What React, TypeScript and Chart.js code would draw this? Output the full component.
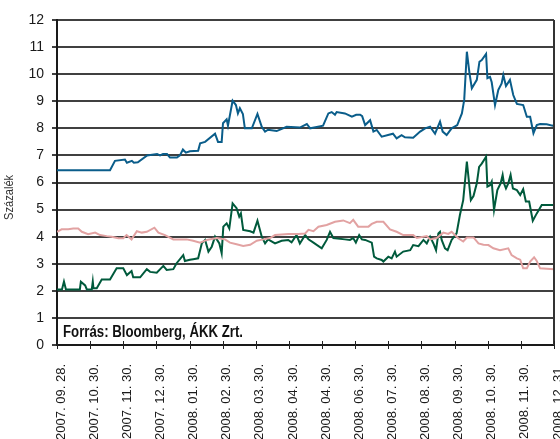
import React, { useEffect, useRef } from "react";
import { Chart, registerables } from "chart.js";

Chart.register(...registerables);

// x positions are in "label intervals" since 2007. 09. 28. (0 .. 15)
const xLabels = [
  "2007. 09. 28.", "2007. 10. 30.", "2007. 11. 30.", "2007. 12. 30.",
  "2008. 01. 30.", "2008. 02. 30.", "2008. 03. 30.", "2008. 04. 30.",
  "2008. 04. 30.", "2008. 06. 30.", "2008. 07. 30.", "2008. 08. 30.",
  "2008. 09. 30.", "2008. 10. 30.", "2008. 11. 30.", "2008. 12. 31.",
];
const yTicks = [0, 1, 2, 3, 4, 5, 6, 7, 8, 9, 10, 11, 12];
const yTitle = "Százalék";
const sourceText = "Forrás: Bloomberg, ÁKK Zrt.";

const blueX = [0, 1.6, 1.75, 2.05, 2.11, 2.26, 2.32, 2.44, 2.72, 3.02, 3.11, 3.2, 3.32, 3.41, 3.62, 3.71, 3.8, 3.89, 4.01, 4.26, 4.32, 4.47, 4.77, 4.86, 4.97, 5.01, 5.12, 5.16, 5.3, 5.4, 5.46, 5.52, 5.61, 5.67, 5.88, 6.05, 6.18, 6.28, 6.37, 6.63, 6.93, 7.33, 7.54, 7.64, 7.84, 8.03, 8.19, 8.29, 8.39, 8.44, 8.69, 8.9, 9.03, 9.15, 9.21, 9.3, 9.45, 9.55, 9.65, 9.8, 10.14, 10.25, 10.4, 10.5, 10.75, 10.96, 11.11, 11.26, 11.41, 11.56, 11.64, 11.76, 11.91, 12.08, 12.22, 12.29, 12.37, 12.45, 12.52, 12.67, 12.75, 12.82, 12.95, 12.99, 13.07, 13.12, 13.22, 13.32, 13.42, 13.47, 13.55, 13.67, 13.77, 13.88, 14.07, 14.18, 14.28, 14.38, 14.48, 14.58, 14.78, 14.98, 15];
const blueY = [6.45, 6.45, 6.8, 6.85, 6.73, 6.8, 6.73, 6.75, 7.0, 7.05, 7.0, 7.05, 7.05, 6.92, 6.92, 7.0, 7.22, 7.1, 7.15, 7.17, 7.45, 7.5, 7.8, 7.5, 7.5, 8.19, 8.33, 8.1, 9.02, 8.86, 8.55, 8.74, 8.53, 8.0, 8.0, 8.53, 8.06, 7.88, 7.95, 7.9, 8.06, 8.03, 8.16, 8.0, 8.05, 8.1, 8.55, 8.6, 8.5, 8.6, 8.55, 8.43, 8.5, 8.5, 8.45, 8.12, 8.3, 7.88, 7.94, 7.69, 7.8, 7.63, 7.75, 7.67, 7.65, 7.88, 8.0, 8.06, 7.8, 8.25, 7.88, 7.75, 8.0, 8.12, 8.55, 9.05, 10.83, 10.03, 9.48, 9.79, 10.46, 10.52, 10.75, 9.85, 9.9, 9.7, 8.86, 9.42, 9.66, 9.97, 9.56, 9.79, 9.23, 8.9, 8.86, 8.43, 8.43, 7.82, 8.12, 8.16, 8.15, 8.09, 8.15];

const greenX = [0, 0.15, 0.21, 0.27, 0.69, 0.72, 0.85, 0.9, 1.05, 1.08, 1.1, 1.2, 1.35, 1.6, 1.8, 2.0, 2.11, 2.25, 2.3, 2.51, 2.71, 2.81, 3.01, 3.21, 3.31, 3.51, 3.61, 3.81, 3.86, 4.01, 4.11, 4.26, 4.37, 4.47, 4.57, 4.67, 4.77, 4.9, 4.97, 5.02, 5.12, 5.2, 5.3, 5.42, 5.5, 5.55, 5.62, 5.83, 5.93, 6.05, 6.18, 6.28, 6.37, 6.58, 6.78, 6.98, 7.08, 7.23, 7.33, 7.49, 7.59, 7.74, 7.99, 8.14, 8.24, 8.34, 8.69, 8.84, 8.94, 9.02, 9.12, 9.2, 9.3, 9.5, 9.57, 9.65, 9.8, 9.85, 10.0, 10.1, 10.2, 10.25, 10.45, 10.66, 10.75, 10.91, 11.06, 11.16, 11.26, 11.36, 11.44, 11.51, 11.56, 11.61, 11.71, 11.79, 11.91, 12.06, 12.16, 12.26, 12.37, 12.49, 12.57, 12.67, 12.74, 12.82, 12.95, 12.99, 13.07, 13.12, 13.19, 13.29, 13.39, 13.45, 13.49, 13.55, 13.62, 13.69, 13.76, 13.88, 13.98, 14.07, 14.15, 14.25, 14.36, 14.48, 14.63, 15];
const greenY = [2.05, 2.05, 2.34, 2.05, 2.05, 2.34, 2.2, 2.05, 2.05, 2.34, 2.1, 2.1, 2.42, 2.42, 2.83, 2.83, 2.58, 2.73, 2.5, 2.5, 2.8, 2.7, 2.67, 2.92, 2.77, 2.8, 3.02, 3.32, 3.1, 3.15, 3.17, 3.2, 3.75, 3.88, 3.45, 3.63, 4.0, 3.75, 3.39, 4.37, 4.49, 4.3, 5.23, 5.05, 4.74, 4.86, 4.25, 4.2, 4.15, 4.59, 4.0, 3.75, 3.9, 3.75, 3.85, 3.88, 3.79, 4.06, 3.75, 4.06, 3.9, 3.78, 3.57, 3.88, 4.18, 3.95, 3.9, 3.88, 3.95, 3.78, 4.06, 3.9, 3.88, 3.78, 3.26, 3.2, 3.14, 3.08, 3.26, 3.2, 3.45, 3.26, 3.45, 3.5, 3.69, 3.65, 3.88, 3.75, 4.0, 3.75, 3.5, 4.12, 4.18, 3.88, 3.57, 3.5, 3.88, 4.12, 4.8, 5.35, 6.77, 5.35, 5.5, 5.97, 6.58, 6.7, 6.95, 5.85, 5.9, 6.03, 4.99, 5.72, 5.97, 6.28, 5.97, 5.78, 5.97, 6.28, 5.78, 5.72, 5.54, 5.75, 5.3, 5.3, 4.59, 4.86, 5.17, 5.17];

const pinkX = [0, 0.14, 0.34, 0.49, 0.64, 0.75, 0.94, 1.15, 1.3, 1.5, 1.65, 1.85, 2.0, 2.1, 2.25, 2.41, 2.56, 2.71, 2.94, 3.06, 3.26, 3.51, 3.91, 4.11, 4.32, 4.52, 4.82, 5.07, 5.22, 5.42, 5.62, 5.83, 6.03, 6.23, 6.43, 6.58, 6.98, 7.28, 7.49, 7.59, 7.74, 7.89, 8.14, 8.39, 8.64, 8.84, 8.94, 9.09, 9.4, 9.5, 9.65, 9.85, 10.05, 10.25, 10.45, 10.75, 10.86, 11.16, 11.26, 11.46, 11.66, 11.81, 11.91, 12.11, 12.26, 12.37, 12.57, 12.72, 12.87, 13.02, 13.17, 13.37, 13.62, 13.72, 13.88, 13.98, 14.07, 14.18, 14.28, 14.4, 14.48, 14.58, 15];
const pinkY = [4.18, 4.27, 4.27, 4.3, 4.3, 4.18, 4.09, 4.15, 4.06, 4.02, 4.0, 3.94, 3.94, 4.06, 3.9, 4.2, 4.15, 4.18, 4.33, 4.15, 4.06, 3.9, 3.9, 3.85, 3.78, 3.88, 3.95, 3.9, 3.78, 3.72, 3.66, 3.7, 3.85, 3.9, 3.95, 4.06, 4.1, 4.1, 4.12, 4.25, 4.2, 4.37, 4.43, 4.55, 4.6, 4.5, 4.62, 4.37, 4.37, 4.47, 4.55, 4.55, 4.27, 4.18, 4.06, 4.06, 3.95, 4.02, 3.9, 3.95, 4.15, 4.1, 4.18, 3.94, 3.82, 3.97, 3.97, 3.75, 3.7, 3.69, 3.57, 3.5, 3.57, 3.32, 3.2, 3.15, 2.83, 2.83, 3.08, 3.24, 3.1, 2.83, 2.8];

const FONT = "'Liberation Sans', Arial, sans-serif";

export default function App() {
  const ref = useRef<HTMLCanvasElement>(null);

  useEffect(() => {
    if (!ref.current) return;
    const toPts = (xs: number[], ys: number[]) => xs.map((x, i) => ({ x, y: ys[i] }));

    // draws text squeezed horizontally to a target width (imitates a narrow face)
    const squeezed = (ctx: any, text: string, x: number, y: number, targetW: number) => {
      const w = ctx.measureText(text).width;
      const k = Math.min(1, targetW / w);
      ctx.save();
      ctx.translate(x, y);
      ctx.scale(k, 1);
      ctx.fillText(text, 0, 0);
      ctx.restore();
    };

    const deco = {
      id: "deco",
      afterDraw(chart: any) {
        const { ctx, chartArea, scales } = chart;
        ctx.save();
        ctx.strokeStyle = "#333";
        ctx.lineWidth = 2;
        ctx.beginPath();
        ctx.moveTo(chartArea.right, chartArea.top);
        ctx.lineTo(chartArea.right, chartArea.bottom);
        ctx.stroke();
        const yb = scales.y.getPixelForValue(0);
        ctx.strokeStyle = "#222";
        ctx.lineWidth = 1;
        ctx.beginPath();
        for (let i = 0; i < xLabels.length; i++) {
          const px = Math.round(scales.x.getPixelForValue(i)) + 0.5;
          ctx.moveTo(px, yb - 4);
          ctx.lineTo(px, yb + 4);
        }
        ctx.stroke();
        ctx.fillStyle = "#111";
        ctx.font = `bold 16px ${FONT}`;
        ctx.textAlign = "left";
        ctx.textBaseline = "alphabetic";
        squeezed(ctx, sourceText, chartArea.left + 6, scales.y.getPixelForValue(0.3), 180);
        ctx.translate(10, scales.y.getPixelForValue(5.45));
        ctx.rotate(-Math.PI / 2);
        ctx.font = `12px ${FONT}`;
        ctx.fillStyle = "#333";
        ctx.textAlign = "left";
        ctx.textBaseline = "middle";
        const w = Math.min(ctx.measureText(yTitle).width, 45);
        squeezed(ctx, yTitle, -w / 2, 0, 45);
        ctx.restore();
      },
    };

    const chart = new Chart(ref.current, {
      type: "line",
      data: {
        datasets: [
          { data: toPts(pinkX, pinkY), borderColor: "#e2a2a2", borderWidth: 2, pointRadius: 0, tension: 0 },
          { data: toPts(greenX, greenY), borderColor: "#005a3c", borderWidth: 2, pointRadius: 0, tension: 0 },
          { data: toPts(blueX, blueY), borderColor: "#0a5d8a", borderWidth: 2, pointRadius: 0, tension: 0 },
        ],
      },
      options: {
        responsive: false,
        animation: false,
        layout: { padding: { left: 0, right: 6, top: 20, bottom: 0 } },
        plugins: { legend: { display: false }, tooltip: { enabled: false }, title: { display: false } },
        scales: {
          x: {
            type: "linear",
            min: 0,
            max: xLabels.length - 1,
            afterFit: (s: any) => {
              s.height = 94;
              s.paddingLeft = 0;
              s.paddingRight = 0;
            },
            ticks: {
              stepSize: 1,
              autoSkip: false,
              maxRotation: 90,
              minRotation: 90,
              padding: 19,
              labelOffset: 4,
              color: "#1a1a1a",
              font: { family: FONT, size: 13 },
              callback: (v: any) => xLabels[Math.round(Number(v))] ?? "",
            },
            grid: { drawOnChartArea: false, drawTicks: false },
            border: { display: true, color: "#1a1a1a", width: 2 },
          },
          y: {
            min: 0,
            max: 12,
            afterFit: (s: any) => {
              s.width = 57;
            },
            afterBuildTicks: (s: any) => {
              s.ticks = yTicks.map((v) => ({ value: v }));
            },
            ticks: {
              color: "#1a1a1a",
              padding: 8,
              font: { family: FONT, size: 14 },
            },
            grid: { color: "#404040", lineWidth: 2, tickLength: 5 },
            border: { display: true, color: "#1a1a1a", width: 2 },
          },
        },
      },
      plugins: [deco],
    });
    return () => chart.destroy();
  }, []);

  return (
    <div style={{ position: "absolute", left: 0, top: 0, width: 560, height: 439, background: "#fff" }}>
      <canvas ref={ref} width={560} height={439} />
    </div>
  );
}
